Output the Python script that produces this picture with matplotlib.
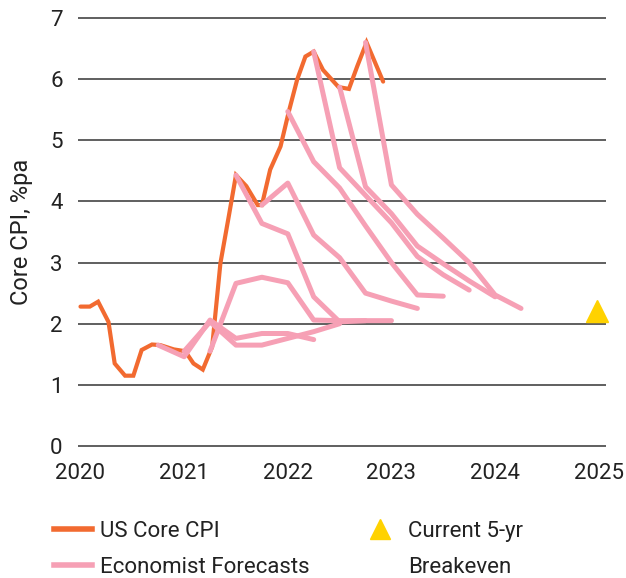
import matplotlib
matplotlib.use("Agg")
import matplotlib.pyplot as plt
from matplotlib.lines import Line2D

plt.rcParams['font.family'] = ['Roboto', 'DejaVu Sans']

# US core CPI
cpi_x = [2020.00, 2020.09, 2020.17, 2020.27, 2020.33, 2020.43, 2020.51, 2020.59,
         2020.69, 2020.77, 2020.90, 2021.01, 2021.09, 2021.18, 2021.27, 2021.35,
         2021.43, 2021.50, 2021.60, 2021.71, 2021.75, 2021.83, 2021.93, 2022.01,
         2022.09, 2022.17, 2022.25, 2022.34, 2022.49, 2022.59, 2022.67, 2022.76,
         2022.92]
cpi_y = [2.28, 2.28, 2.36, 2.03, 1.35, 1.15, 1.15, 1.57,
         1.66, 1.65, 1.58, 1.55, 1.35, 1.25, 1.62, 2.99,
         3.75, 4.43, 4.25, 3.94, 3.94, 4.52, 4.90, 5.47,
         5.99, 6.37, 6.45, 6.15, 5.87, 5.84, 6.21, 6.60,
         5.96]

# economist forecasts, quarterly, first value = start quarter
fc_start = [2020.75, 2021.0, 2021.25, 2021.5, 2021.75, 2022.0, 2022.25, 2022.5, 2022.75]
fc_2020q4 = [1.65, 1.46, 2.06, 1.76, 1.84, 1.84, 1.74]
fc_2021q1 = [1.55, 2.03, 1.65, 1.65, 1.76, 1.87, 2.00]
fc_2021q2 = [1.55, 2.66, 2.76, 2.67, 2.06, 2.05, 2.05]
fc_2021q3 = [4.43, 3.64, 3.47, 2.44, 2.03, 2.05, 2.05]
fc_2021q4 = [3.94, 4.30, 3.45, 3.08, 2.50, 2.37, 2.25]
fc_2022q1 = [5.47, 4.65, 4.22, 3.60, 3.00, 2.47, 2.45]
fc_2022q2 = [6.45, 4.55, 4.10, 3.65, 3.10, 2.80, 2.55]
fc_2022q3 = [5.87, 4.24, 3.80, 3.27, 2.98, 2.70, 2.44]
fc_2022q4 = [6.60, 4.27, 3.79, 3.40, 3.00, 2.47, 2.25]
forecasts = [fc_2020q4, fc_2021q1, fc_2021q2, fc_2021q3, fc_2021q4,
             fc_2022q1, fc_2022q2, fc_2022q3, fc_2022q4]

breakeven_x = 2024.98
breakeven_y = 2.2

years = [2020, 2021, 2022, 2023, 2024, 2025]
yvals = [0, 1, 2, 3, 4, 5, 6, 7]

orange = '#F26A30'
pink = '#F6A0B5'
gold = '#FFD200'
text_c = '#222222'

fig = plt.figure(figsize=(6.26, 5.78), dpi=100)
ax = fig.add_axes([78 / 626, 1 - 446 / 578, 528 / 626, 428 / 578])

ax.hlines(yvals, 1, 0, transform=ax.get_yaxis_transform(), colors='#444444',
          lw=1.2, clip_on=False, zorder=1)

ax.plot(cpi_x, cpi_y, color=orange, lw=3, solid_capstyle='round',
        solid_joinstyle='miter', zorder=2)
for start, vals in zip(fc_start, forecasts):
    xs = [start + 0.25 * i for i in range(len(vals))]
    ax.plot(xs, vals, color=pink, lw=3.6, solid_capstyle='round', zorder=3)

ax.plot([breakeven_x], [breakeven_y], marker='^', color=gold, markersize=16,
        linestyle='none', zorder=4, clip_on=False)

ax.set_xlim(2019.976, 2025.07)
ax.set_ylim(0, 7)
ax.set_xticks(years)
ax.set_xticklabels([str(y) for y in years])
ax.set_yticks(yvals)
ax.tick_params(length=0, labelsize=16, colors=text_c, pad=12)
ax.tick_params(axis='y', pad=11)
for s in ax.spines.values():
    s.set_visible(False)

ax.set_ylabel('Core CPI, %pa', fontsize=17, color=text_c)
ax.yaxis.set_label_coords(-0.086, 0.5)

handles = [Line2D([], [], color=orange, lw=4),
           Line2D([], [], color=pink, lw=4),
           Line2D([], [], marker='^', color=gold, markersize=15, linestyle='none'),
           Line2D([], [], color='none')]
labels = ['US Core CPI', 'Economist Forecasts', 'Current 5-yr', 'Breakeven']
fig.legend(handles, labels, loc='upper left', bbox_to_anchor=(54 / 626, 1 - 521 / 578),
           ncol=2, frameon=False, fontsize=16, handlelength=1.71, handletextpad=0.38,
           columnspacing=2.3, labelspacing=0.68, borderpad=0, borderaxespad=0,
           labelcolor=text_c)

fig.savefig('out.png', dpi=100)
